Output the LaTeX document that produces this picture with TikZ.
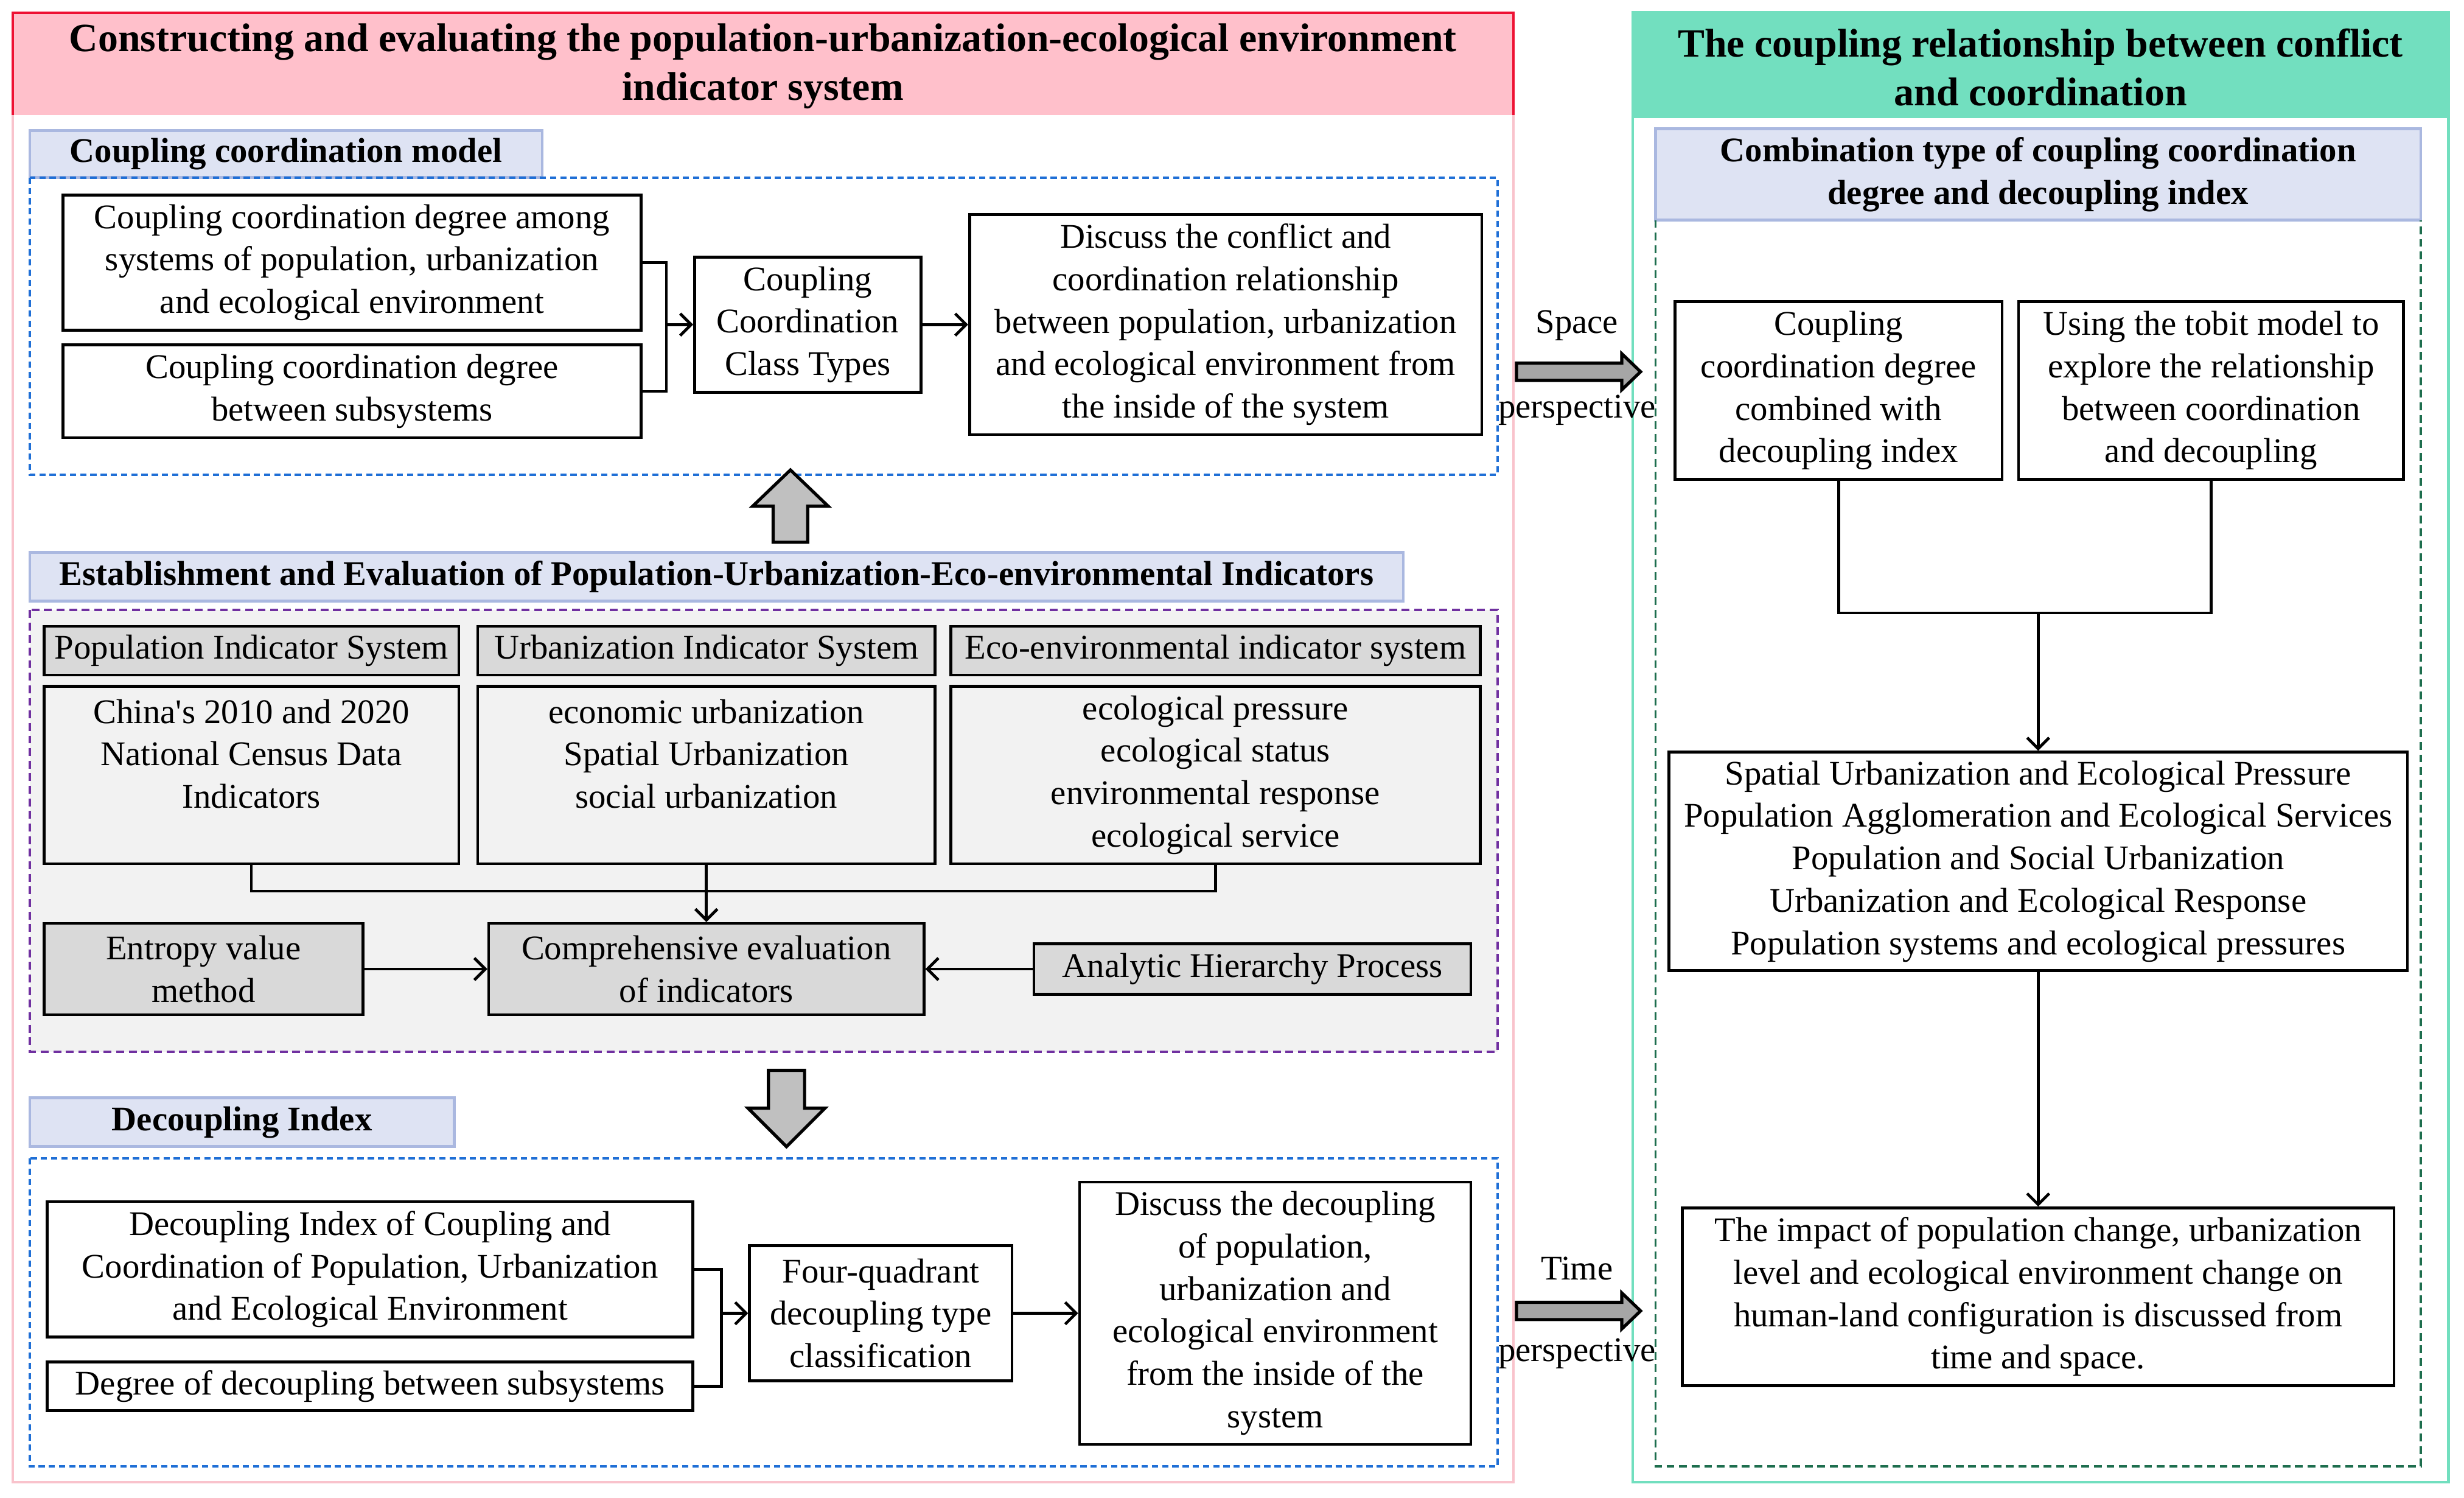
\documentclass[tikz,border=0pt]{standalone}
\usepackage{fontspec}
\setmainfont{Liberation Serif}
\usetikzlibrary{arrows.meta}
\definecolor{pinkfill}{HTML}{FFC0CB}
\definecolor{pinkline}{HTML}{F9C3CC}
\definecolor{redline}{HTML}{EE1133}
\definecolor{greenfill}{HTML}{72DFBF}
\definecolor{labelfill}{HTML}{DEE3F3}
\definecolor{labelline}{HTML}{AAB8E0}
\definecolor{dashblue}{HTML}{1F6FD6}
\definecolor{dashpurple}{HTML}{7030A0}
\definecolor{dashgreen}{HTML}{1E6E4E}
\definecolor{panelgray}{HTML}{F2F2F2}
\definecolor{headgray}{HTML}{D9D9D9}
\definecolor{arrowgray}{HTML}{C0C0C0}
\definecolor{sidegray}{HTML}{A6A6A6}
\begin{document}
\begin{tikzpicture}[x=1pt,y=-1pt,
    box/.style={draw,line width=1.8pt,align=center,inner sep=1pt,font=\fontsize{22}{27}\selectfont},
    graybox/.style={box,fill=headgray},
    litebox/.style={box,fill=panelgray},
    tag/.style={draw=labelline,line width=1.8pt,fill=labelfill,align=center,inner sep=1pt,font=\bfseries\fontsize{22}{27}\selectfont},
    title/.style={align=center,font=\bfseries\fontsize{25.5}{31}\selectfont},
    plain/.style={font=\fontsize{22}{27}\selectfont,inner sep=0pt},
    arr/.style={line width=1.8pt,-{Straight Barb[length=7pt,width=14pt,line width=1.8pt]}},
    link/.style={line width=1.8pt},
    bigarrow/.style={draw,line width=2pt,fill=arrowgray,line join=miter},
    sidearrow/.style={draw,line width=2pt,fill=sidegray,line join=miter},
    bluedash/.style={draw=dashblue,line width=1.5pt,dash pattern=on 4pt off 2.5pt},
    purpledash/.style={draw=dashpurple,line width=1.5pt,dash pattern=on 5pt off 3pt},
    greendash/.style={draw=dashgreen,line width=1.5pt,dash pattern=on 5pt off 3pt}
]
\useasboundingbox (0,0) rectangle (1568,953);

% left frame
\fill[pinkfill] (8,8) rectangle (963,73);
\draw[pinkline,line width=1.5pt] (8,73) -- (8,943) -- (963,943) -- (963,73);
\draw[redline,line width=1.5pt] (8,73) -- (8,8) -- (963,8) -- (963,73);
\node[title] (lefttitle) at (485.5,42) {Constructing and evaluating the population-urbanization-ecological environment\\indicator system};

% right frame
\fill[greenfill] (1039,8) rectangle (1558,75);
\draw[greenfill,line width=1.8pt] (1039,8) rectangle (1558,943);
\node[title] (righttitle) at (1298.5,43) {The coupling relationship between conflict\\and coordination};

% coupling coordination model
\node[tag,minimum width=326pt,minimum height=30pt] (ccm) at (182,98) {Coupling coordination model};
\draw[bluedash] (19,113) rectangle (953,302);
\node[box,minimum width=368pt,minimum height=86pt] (a1) at (224,167) {Coupling coordination degree among\\systems of population, urbanization\\and ecological environment};
\node[box,minimum width=368pt,minimum height=59pt] (a2) at (224,249) {Coupling coordination degree\\between subsystems};
\node[box,minimum width=144pt,minimum height=86pt] (types) at (514,206.5) {Coupling\\Coordination\\Class Types};
\node[box,minimum width=326pt,minimum height=140pt] (conflict) at (780,206.5) {Discuss the conflict and\\coordination relationship\\between population, urbanization\\and ecological environment from\\the inside of the system};
\coordinate (brk) at (424,206.5);
\draw[link] (a1.east) -| (brk) |- (a2.east);
\draw[arr] (brk) -- (types.west);
\draw[arr] (types.east) -- (conflict.west);

% block arrow up
\draw[bigarrow] (492,345) -- (492,322) -- (479,322) -- (503,299) -- (527,322) -- (514,322) -- (514,345) -- cycle;

% indicators
\node[tag,minimum width=874pt,minimum height=31pt] (est) at (456,367) {Establishment and Evaluation of Population-Urbanization-Eco-environmental Indicators};
\draw[purpledash,fill=panelgray] (19,388) rectangle (953,669);
\node[graybox,minimum width=264pt,minimum height=31pt] (poph) at (160,414) {Population Indicator System};
\node[graybox,minimum width=291pt,minimum height=31pt] (urbh) at (449.5,414) {Urbanization Indicator System};
\node[graybox,minimum width=337pt,minimum height=31pt] (ecoh) at (773.5,414) {Eco-environmental indicator system};
\node[litebox,minimum width=264pt,minimum height=113pt] (popc) at (160,493) {China\textquotesingle s 2010 and 2020\\National Census Data\\Indicators\\~};
\node[litebox,minimum width=291pt,minimum height=113pt] (urbc) at (449.5,493) {economic urbanization\\Spatial Urbanization\\social urbanization\\~};
\node[litebox,minimum width=337pt,minimum height=113pt] (ecoc) at (773.5,493) {ecological pressure\\ecological status\\environmental response\\ecological service};
\node[graybox,minimum width=203pt,minimum height=58pt] (entropy) at (129.5,616.5) {Entropy value\\method};
\node[graybox,minimum width=277pt,minimum height=58pt] (comp) at (449.5,616.5) {Comprehensive evaluation\\of indicators};
\node[graybox,minimum width=278pt,minimum height=32pt] (ahp) at (797,616.5) {Analytic Hierarchy Process};
\coordinate (join) at (449.5,567);
\draw[link] (popc.south) |- (join) -| (ecoc.south);
\draw[arr] (urbc.south) -- (comp.north);
\draw[arr] (entropy.east) -- (comp.west);
\draw[arr] (ahp.west) -- (comp.east);

% block arrow down
\draw[bigarrow] (489,681) -- (489,705) -- (476,705) -- (500.5,729.5) -- (525,705) -- (512,705) -- (512,681) -- cycle;

% decoupling index
\node[tag,minimum width=270pt,minimum height=31pt] (dec) at (154,714) {Decoupling Index};
\draw[bluedash] (19,737) rectangle (953,933);
\node[box,minimum width=411pt,minimum height=86pt] (d1) at (235.5,807.5) {Decoupling Index of Coupling and\\Coordination of Population, Urbanization\\and Ecological Environment};
\node[box,minimum width=411pt,minimum height=31pt] (d2) at (235.5,882) {Degree of decoupling between subsystems};
\node[box,minimum width=167pt,minimum height=86pt] (quad) at (560.5,835.5) {Four-quadrant\\decoupling type\\classification};
\node[box,minimum width=249pt,minimum height=167pt] (inside) at (811.5,835.5) {Discuss the decoupling\\of population,\\urbanization and\\ecological environment\\from the inside of the\\system};
\coordinate (brk2) at (459,835.5);
\draw[link] (d1.east) -| (brk2) |- (d2.east);
\draw[arr] (brk2) -- (quad.west);
\draw[arr] (quad.east) -- (inside.west);

% perspectives
\draw[sidearrow] (965,231) -- (1032,231) -- (1032,225) -- (1044,236.5) -- (1032,248) -- (1032,242) -- (965,242) -- cycle;
\node[plain] (spacetxt) at (1003.5,207) {Space};
\node[plain] (spacepsp) at (1003.5,261) {perspective};
\draw[sidearrow] (965,828.5) -- (1032,828.5) -- (1032,822.5) -- (1044,834) -- (1032,845.5) -- (1032,839.5) -- (965,839.5) -- cycle;
\node[plain] (timetxt) at (1003.5,807) {Time};
\node[plain] (timepsp) at (1003.5,861) {perspective};

% combination
\node[tag,minimum width=487pt,minimum height=58pt] (comb) at (1297,111) {Combination type of coupling coordination\\degree and decoupling index};
\draw[greendash] (1053.5,140) -- (1053.5,933) -- (1540.5,933) -- (1540.5,140);
\node[box,minimum width=208pt,minimum height=113pt] (g1) at (1170,248.5) {Coupling\\coordination degree\\combined with\\decoupling index};
\node[box,minimum width=245pt,minimum height=113pt] (g2) at (1407,248.5) {Using the tobit model to\\explore the relationship\\between coordination\\and decoupling};
\node[box,minimum width=470pt,minimum height=139pt] (pairs) at (1297,548) {Spatial Urbanization and Ecological Pressure\\Population Agglomeration and Ecological Services\\Population and Social Urbanization\\Urbanization and Ecological Response\\Population systems and ecological pressures};
\node[box,minimum width=453pt,minimum height=113pt] (impact) at (1297,825) {The impact of population change, urbanization\\level and ecological environment change on\\human-land configuration is discussed from\\time and space.};
\coordinate (join2) at (1297,390);
\draw[link] (g1.south) |- (join2) -| (g2.south);
\draw[arr] (join2) -- (pairs.north);
\draw[arr] (pairs.south) -- (impact.north);
\end{tikzpicture}
\end{document}
